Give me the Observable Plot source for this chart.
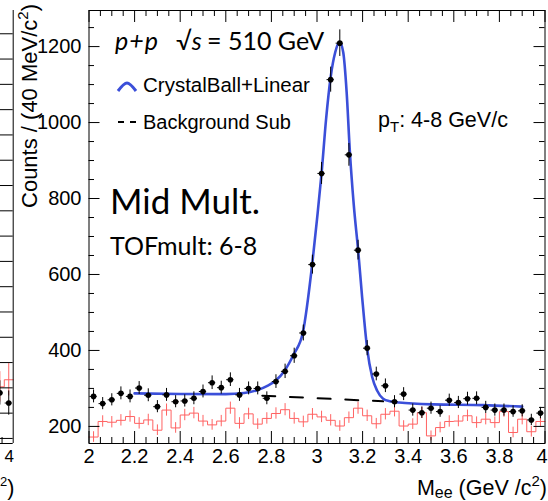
<!DOCTYPE html>
<html>
<head>
<meta charset="utf-8">
<script src="https://cdn.jsdelivr.net/npm/d3@7"></script>
<script src="https://cdn.jsdelivr.net/npm/@observablehq/plot@0.6"></script>
<style>
html,body{margin:0;padding:0;background:#fff;}
#wrap{position:relative;width:548px;height:501px;overflow:hidden;background:#fff;}
#wrap svg{position:absolute;top:0;left:0;}
</style>
</head>
<body>
<div id="wrap"></div>
<script>
// ---------- data ----------
const binCenters = [2.02,2.06,2.10,2.14,2.18,2.22,2.26,2.30,2.34,2.38,2.42,2.46,2.50,2.54,2.58,2.62,2.66,2.70,2.74,2.78,
  2.82,2.86,2.90,2.94,2.98,3.02,3.06,3.10,3.14,3.18,3.22,3.26,3.30,3.34,3.38,3.42,3.46,3.50,3.54,3.58,
  3.62,3.66,3.70,3.74,3.78,3.82,3.86,3.90,3.94,3.98];
const dataCounts = [279,260,270,287,279,301,282,252,283,265,267,274,292,315,302,323,283,300,300,274,
  318,345,386,446,626,866,1113,1209,915,664,406,338,307,265,285,243,236,248,239,269,
  263,273,274,250,243,243,239,241,217,235];
const dataErrors = [17,16,16,17,17,17,17,16,17,16,16,17,17,18,17,18,17,17,17,17,
  18,19,20,21,25,29,33,35,30,26,20,18,18,16,17,16,15,16,15,16,
  16,17,17,16,16,16,15,16,15,15];
const bkgCounts = [172,213,211,216,226,208,217,190,243,196,230,235,214,204,214,248,208,233,206,221,
  234,244,221,212,232,225,216,201,223,248,228,207,232,240,201,206,236,175,197,213,
  214,228,210,219,210,239,184,219,186,213];
const bkgErrors = [14,15,15,15,15,15,15,14,16,14,15,15,15,14,15,16,15,15,14,15,
  15,16,15,15,15,15,15,14,15,16,15,14,15,15,14,14,15,13,14,15,
  15,15,15,15,15,15,14,15,14,15];
const fitMass = [2.20,2.40,2.60,2.68,2.74,2.78,2.818,2.857,2.898,2.938,2.979,3.00,3.02,3.04,3.06,3.08,3.099,
  3.115,3.13,3.144,3.161,3.181,3.198,3.22,3.242,3.264,3.29,3.32,3.36,3.51,3.73,3.90];
const fitCounts = [287,285.5,285,288,296,306,320,346,390,447,627,745,866,1010,1120,1185,1212,
  1185,1080,925,785,660,540,405,330,294,273,266,263,258,256,252];
const bgSubMass = [2.76, 3.29];
const bgSubCounts = [281, 266];
const xTicks = [2, 2.2, 2.4, 2.6, 2.8, 3, 3.2, 3.4, 3.6, 3.8, 4];
const xTickLabels = ["2","2.2","2.4","2.6","2.8","3","3.2","3.4","3.6","3.8","4"];
const yTicks = [200, 400, 600, 800, 1000, 1200];
const yTickLabels = ["200","400","600","800","1000","1200"];
// neighbouring (cropped) panel on the left
const leftBinCenters = [3.94, 3.98];
const leftBkg = [102, 116];
const leftBkgErr = [30, 32];
const leftCounts = [90, 70];
const leftErrors = [24, 24];
const leftYTicks = [0,50,100,150,200,250,300,350,400,450,500,550,600,650,700,750,800];
const leftXTickLabel = "4";

// texts
const yTitle = "Counts / (40 MeV/c";
const legendFit = "CrystalBall+Linear";
const legendBg = "Background Sub";
const ptText = ": 4-8 GeV/c";
const multText = "Mid Mult.";
const tofText = "TOFmult: 6-8";

// ---------- build ----------
const ARIAL = "'Liberation Sans', Arial, Helvetica, sans-serif";
const CAL = "Lato, 'Open Sans', sans-serif";
const RED = "#ff6262", BLUE = "#3b4fd9";
const W = 548, H = 501, ML = 88.5, MR = 3.5, MT = 10, MB = 58;
const PW = W - ML - MR, PH = H - MT - MB;

const bins = binCenters.map((c, i) => ({c, v: dataCounts[i], e: dataErrors[i], b: bkgCounts[i], be: bkgErrors[i]}));
const redSteps = bins.flatMap(d => [{x: d.c - 0.02, y: d.b}, {x: d.c + 0.02, y: d.b}]);
const fit = fitMass.map((m, i) => ({m, v: fitCounts[i]}));
const bgLine = bgSubMass.map((m, i) => ({m, v: bgSubCounts[i]}));
const isMajX = v => Math.abs(v * 5 - Math.round(v * 5)) < 1e-6;
const xMinor = d3.range(0, 41).map(i => 2 + i * 0.05).filter(v => !isMajX(v));
const yMinor = d3.range(4, 26).map(i => i * 50).filter(v => v % 200 !== 0);
const xTicksInner = xTicks.slice(0, -1);
const xTickLast = xTicks.slice(-1);
const fmtX = d => xTickLabels[xTicks.indexOf(d)];

const main = Plot.plot({
  width: W, height: H, marginLeft: ML, marginRight: MR, marginTop: MT, marginBottom: MB,
  x: {domain: [2, 4]},
  y: {domain: [155, 1295]},
  style: {fontFamily: ARIAL, fontSize: "20px", color: "#000", background: "transparent"},
  marks: [
    Plot.line(redSteps, {x: "x", y: "y", stroke: RED, strokeWidth: 1}),
    Plot.ruleX(bins, {x: "c", y1: d => d.b - d.be, y2: d => d.b + d.be, stroke: RED, strokeWidth: 1}),
    Plot.line(bgLine, {x: "m", y: "v", stroke: "#000", strokeWidth: 2, strokeDasharray: "13,14.7"}),
    Plot.line(fit, {x: "m", y: "v", stroke: BLUE, strokeWidth: 2.6, curve: "monotone-x"}),
    Plot.ruleX(bins, {x: "c", y1: d => d.v - d.e, y2: d => d.v + d.e, stroke: "#000", strokeWidth: 1}),
    Plot.ruleY(bins, {y: "v", x1: d => d.c - 0.016, x2: d => d.c + 0.016, stroke: "#000", strokeWidth: 1}),
    Plot.dot(bins, {x: "c", y: "v", r: 2.8, fill: "#000", stroke: "none"}),
    // inner ticks
    Plot.tickX(xTicks, {x: d => d, insetTop: PH - 12, stroke: "#000"}),
    Plot.tickX(xMinor, {x: d => d, insetTop: PH - 6, stroke: "#000"}),
    Plot.tickX(xTicks, {x: d => d, insetBottom: PH - 12, stroke: "#000"}),
    Plot.tickX(xMinor, {x: d => d, insetBottom: PH - 6, stroke: "#000"}),
    Plot.tickY(yTicks, {y: d => d, insetRight: PW - 11, stroke: "#000"}),
    Plot.tickY(yMinor, {y: d => d, insetRight: PW - 5.5, stroke: "#000"}),
    Plot.tickY(yTicks, {y: d => d, insetLeft: PW - 11, stroke: "#000"}),
    Plot.tickY(yMinor, {y: d => d, insetLeft: PW - 5.5, stroke: "#000"}),
    Plot.frame({stroke: "#000", strokeWidth: 1}),
    Plot.axisX(xTicksInner, {tickSize: 0, tickPadding: 5.5, label: null, tickFormat: fmtX}),
    Plot.axisX(xTickLast, {tickSize: 0, tickPadding: 5.5, label: null, tickFormat: fmtX, dx: -3}),
    Plot.axisY(yTicks, {tickSize: 0, tickPadding: 7.5, label: null, tickFormat: d => yTickLabels[yTicks.indexOf(d)]})
  ]
});
document.getElementById("wrap").appendChild(main);

// cropped neighbouring panel
const lb = leftBinCenters.map((c, i) => ({c, b: leftBkg[i], be: leftBkgErr[i], v: leftCounts[i], e: leftErrors[i]}));
const lSteps = lb.flatMap(d => [{x: d.c - 0.02, y: d.b}, {x: d.c + 0.02, y: d.b}]);
const side = Plot.plot({
  width: 14, height: H, marginLeft: 0, marginRight: 1.3, marginTop: MT, marginBottom: MB,
  x: {domain: [3.943, 4.0], axis: null},
  y: {domain: [-10, 846], axis: null},
  style: {background: "transparent", fontFamily: ARIAL, fontSize: "17px"},
  marks: [
    Plot.line(lSteps, {x: "x", y: "y", stroke: RED, strokeWidth: 1}),
    Plot.ruleX(lb, {x: "c", y1: d => d.b - d.be, y2: d => d.b + d.be, stroke: RED}),
    Plot.ruleX(lb, {x: "c", y1: d => d.v - d.e, y2: d => d.v + d.e, stroke: "#000"}),
    Plot.ruleY(lb, {y: "v", x1: d => d.c - 0.016, x2: d => d.c + 0.016, stroke: "#000"}),
    Plot.dot(lb, {x: "c", y: "v", r: 2.8, fill: "#000", stroke: "none"}),
    Plot.tickY(leftYTicks, {y: d => d, stroke: "#000"}),
    Plot.tickX([3.95], {x: d => d, insetTop: PH - 6, stroke: "#000"}),
    Plot.ruleX([4.0], {stroke: "#000"}),
    Plot.ruleY([-10], {stroke: "#000"}),
    Plot.axisX([4.0], {tickSize: 0, tickPadding: 6, label: null, tickFormat: () => leftXTickLabel, textAnchor: "end", dx: 0.8})
  ]
});
document.getElementById("wrap").appendChild(side);

// overlay texts / legend
const ov = d3.select("#wrap").append("svg").attr("width", W).attr("height", H)
  .style("pointer-events", "none").style("white-space", "pre");

const yt = ov.append("text").attr("transform", "translate(37,4) rotate(-90)").attr("text-anchor", "end")
  .attr("font-family", ARIAL).attr("font-size", 22).attr("fill", "#000");
yt.append("tspan").text(yTitle);
yt.append("tspan").attr("font-size", 15).attr("dy", -9).text("2");
yt.append("tspan").attr("dy", 9).text(")");

const xt = ov.append("text").attr("x", 547).attr("y", 494.5).attr("text-anchor", "end")
  .attr("font-family", ARIAL).attr("font-size", 21.5).attr("fill", "#000");
xt.append("tspan").text("M");
xt.append("tspan").attr("font-size", 16).attr("dy", 3.5).text("ee");
xt.append("tspan").attr("dy", -3.5).text("  (GeV /c");
xt.append("tspan").attr("font-size", 15).attr("dy", -9).text("2");
xt.append("tspan").attr("dy", 9).text(")");

// fragment of the neighbouring panel's axis title
const xt2 = ov.append("text").attr("x", 14.5).attr("y", 494.5).attr("text-anchor", "end")
  .attr("font-family", ARIAL).attr("font-size", 21.5);
xt2.append("tspan").attr("font-size", 13).attr("dy", -9).text("2");
xt2.append("tspan").attr("dy", 9).text(")");

// p+p sqrt(s)
const t1 = ov.append("text").attr("y", 50).attr("font-family", CAL).attr("font-size", 25).attr("fill", "#000");
t1.append("tspan").attr("x", 115).attr("font-style", "italic").attr("letter-spacing", 1).text("p+p");
t1.append("tspan").attr("x", 176).text("\u221A");
t1.append("tspan").attr("font-style", "italic").text("s");
t1.append("tspan").attr("x", 207).text("= 510 GeV");

// legend
ov.append("path").attr("d", "M118,91 C121,87 124,83 127,83 C130,83 133,87 136,91")
  .attr("fill", "none").attr("stroke", BLUE).attr("stroke-width", 3);
ov.append("text").attr("x", 143).attr("y", 91.5).attr("font-family", ARIAL).attr("font-size", 20.5).text(legendFit);
ov.append("path").attr("d", "M118,122 h6 M130,122 h6").attr("stroke", "#000").attr("stroke-width", 2);
ov.append("text").attr("x", 143).attr("y", 128.5).attr("font-family", ARIAL).attr("font-size", 20).text(legendBg);

// pT
const pt = ov.append("text").attr("x", 378).attr("y", 126.5).attr("font-family", ARIAL).attr("font-size", 21.5);
pt.append("tspan").text("p");
pt.append("tspan").attr("font-size", 15).attr("dy", 5).text("T");
pt.append("tspan").attr("dy", -5).text(ptText);

// multiplicity labels
ov.append("text").attr("x", 110).attr("y", 214).attr("font-family", CAL).attr("font-size", 35).text(multText);
ov.append("text").attr("x", 110).attr("y", 255).attr("font-family", CAL).attr("font-size", 25).text(tofText);
</script>
</body>
</html>
